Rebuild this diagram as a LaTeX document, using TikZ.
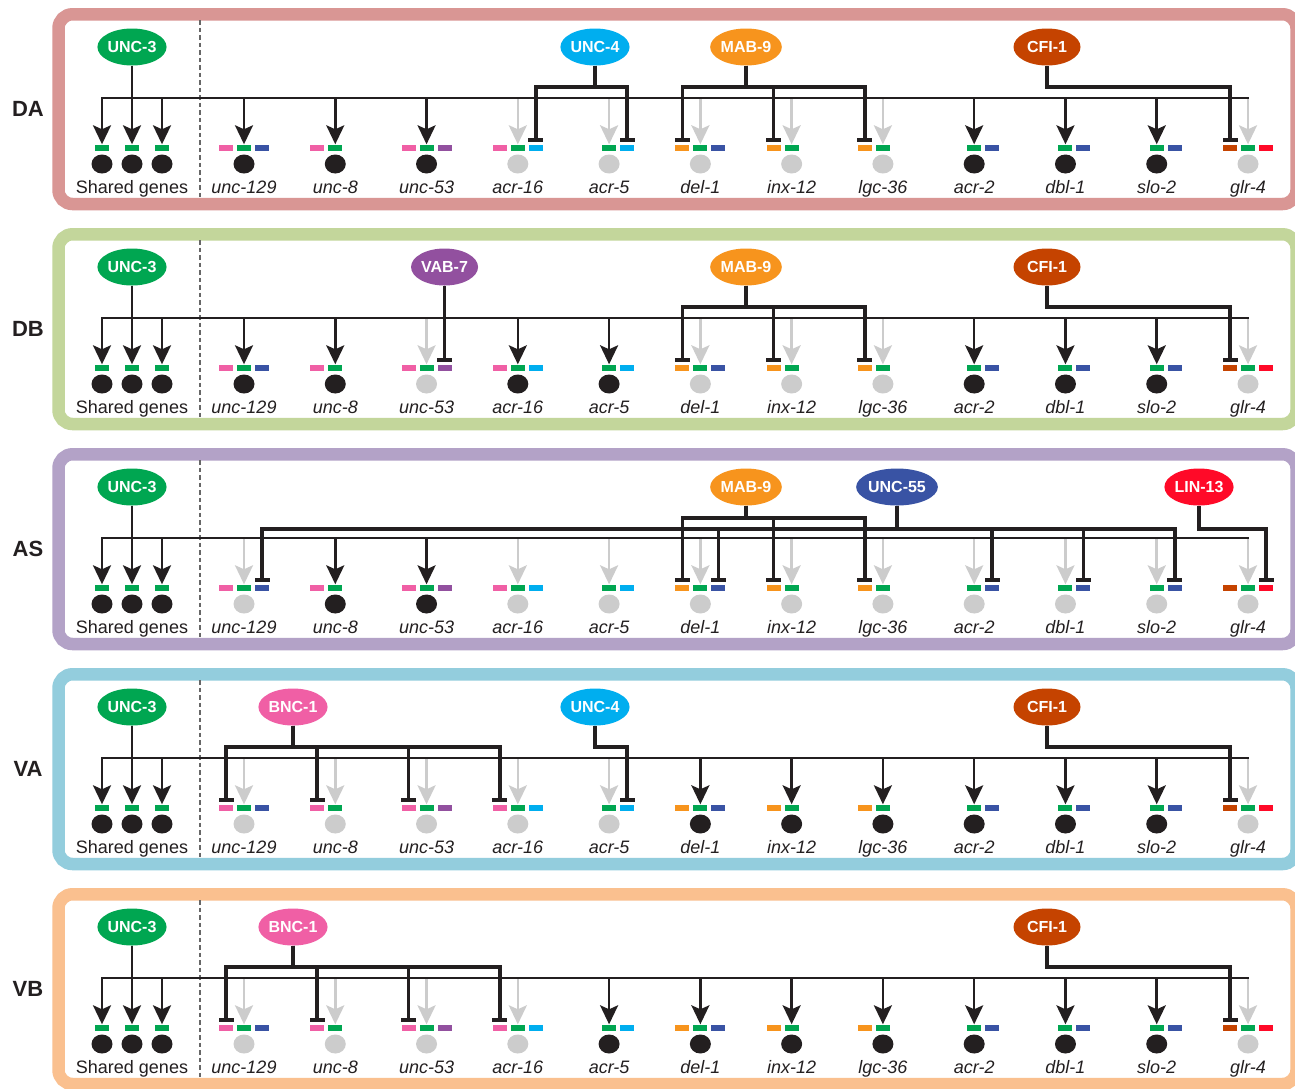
\documentclass[tikz,border=0pt]{standalone}
\usepackage{fontspec}
\setmainfont{Liberation Sans}
\usetikzlibrary{arrows.meta,shapes.geometric,calc}

\definecolor{ink}{HTML}{231F20}
\definecolor{grn}{HTML}{00A651}
\definecolor{cya}{HTML}{00AEEF}
\definecolor{org}{HTML}{F7941D}
\definecolor{rust}{HTML}{C54300}
\definecolor{pur}{HTML}{92509F}
\definecolor{blu}{HTML}{3953A4}
\definecolor{redx}{HTML}{FF0A28}
\definecolor{pnk}{HTML}{F05FA5}
\definecolor{lgray}{HTML}{CCCCCC}
\definecolor{sepgray}{HTML}{666666}
\definecolor{bDA}{HTML}{D99694}
\definecolor{bDB}{HTML}{C3D69B}
\definecolor{bAS}{HTML}{B3A2C7}
\definecolor{bVA}{HTML}{93CDDD}
\definecolor{bVB}{HTML}{FAC08F}

\tikzset{
  tf/.style={ellipse, minimum width=67pt, minimum height=37pt, inner sep=0pt,
    text=white, font=\bfseries\fontsize{16}{17}\selectfont},
  genebar/.style={rectangle, minimum width=14pt, minimum height=6pt, inner sep=0pt, draw=none},
  gdot/.style={ellipse, minimum width=21pt, minimum height=19pt, inner sep=0pt, draw=none},
  glab/.style={anchor=base, inner sep=0pt, text=ink, font=\itshape\fontsize{18}{20}\selectfont},
  slab/.style={anchor=base, inner sep=0pt, text=ink, font=\fontsize{18}{20}\selectfont},
  rowlab/.style={anchor=base, inner sep=0pt, text=ink, font=\bfseries\fontsize{22}{24}\selectfont},
  act/.style={line width=2.6pt, -{Stealth[length=19pt,width=18pt,inset=4pt]}},
  repl/.style={line width=3.6pt, draw=ink, -{Rectangle[length=4pt,width=15pt]}},
  mainl/.style={line width=2.6pt, draw=ink, line cap=rect},
  sepline/.style={draw=sepgray, line width=1.3pt, dash pattern=on 4.5pt off 3pt},
  frame/.style={line width=12.5pt, rounded corners=14pt}
}

\newcommand\defgene[4]{%
  \expandafter\def\csname gname#1\endcsname{#2}%
  \expandafter\def\csname gleft#1\endcsname{#3}%
  \expandafter\def\csname gright#1\endcsname{#4}}
\defgene{1}{unc-129}{pnk}{blu}
\defgene{2}{unc-8}{pnk}{none}
\defgene{3}{unc-53}{pnk}{pur}
\defgene{4}{acr-16}{pnk}{cya}
\defgene{5}{acr-5}{none}{cya}
\defgene{6}{del-1}{org}{blu}
\defgene{7}{inx-12}{org}{none}
\defgene{8}{lgc-36}{org}{none}
\defgene{9}{acr-2}{none}{blu}
\defgene{10}{dbl-1}{none}{blu}
\defgene{11}{slo-2}{none}{blu}
\defgene{12}{glr-4}{rust}{redx}
\def\nonestr{none}

% #1 id, #2 y offset, #3 frame colour, #4 row label, #5 status list
\newcommand\drawpanel[5]{%
\begin{scope}[shift={(0,#2)}]
  \draw[frame, draw=#3] (58.5,14.25) rectangle (1296.5,204);
  \node[rowlab] (#1lab) at (28,116) {#4};
  \draw[sepline] (200,20) -- (200,198);
  \node[tf, fill=grn] (#1unc3) at (132,47) {UNC-3};
  \foreach \sx [count=\j] in {102,132,162} {
    \node[genebar, fill=grn] (#1s\j) at (\sx,147.5) {};
    \node[gdot, fill=ink] (#1sc\j) at (\sx,164) {};
  }
  \node[slab] (#1shared) at (132,193) {Shared genes};
  \coordinate (#1mL) at (102,98);
  \coordinate (#1mR) at (1248,98);
  \draw[act, color=ink] (#1mL) -- (#1s1.north);
  \draw[act, color=ink] (#1unc3.south) -- (#1s2.north);
  \draw[act, color=ink] (#1s3.north |- #1mL) -- (#1s3.north);
  \foreach \st [count=\i] in {#5} {
    \pgfmathsetmacro\gx{244+91.2727*(\i-1)}
    \ifnum\st=1 \def\gc{ink}\else\def\gc{lgray}\fi
    \edef\gl{\csname gleft\i\endcsname}
    \edef\gr{\csname gright\i\endcsname}
    \node[genebar, fill=grn] (#1g\i) at (\gx,147.5) {};
    \ifx\gl\nonestr\else \node[genebar, fill=\gl] (#1g\i l) at (\gx-18,147.5) {};\fi
    \ifx\gr\nonestr\else \node[genebar, fill=\gr] (#1g\i r) at (\gx+18,147.5) {};\fi
    \node[gdot, fill=\gc] (#1c\i) at (\gx,164) {};
    \node[glab] (#1t\i) at (\gx,193) {\csname gname\i\endcsname};
    \draw[act, color=\gc] (#1g\i.north |- #1mL) -- (#1g\i.north);
  }
  \draw[mainl] (#1mL) -- (#1mR);
\end{scope}}

% repression: #1 TF node, #2 target bar node, #3 bracket y (panel relative)
\newcommand\rep[3]{\draw[repl] (#1.south) -- (#1.south |- 0,#3) -| ($(#2.north)+(0,-2.5)$);}

\begin{document}
\begin{tikzpicture}[x=1pt,y=-1pt]
\useasboundingbox (0,0) rectangle (1295,1088);
\fill[white] (0,0) rectangle (1295,1088);

% ---------------- DA ----------------
\drawpanel{DA}{0}{bDA}{DA}{1,1,1,0,0,0,0,0,1,1,1,0}
\begin{scope}[shift={(0,0)}]
  \node[tf, fill=cya] (DAunc4) at (595,47) {UNC-4};
  \node[tf, fill=org] (DAmab9) at (746,47) {MAB-9};
  \node[tf, fill=rust] (DAcfi1) at (1047,47) {CFI-1};
  \rep{DAunc4}{DAg4r}{87}
  \rep{DAunc4}{DAg5r}{87}
  \rep{DAmab9}{DAg6l}{87}
  \rep{DAmab9}{DAg7l}{87}
  \rep{DAmab9}{DAg8l}{87}
  \rep{DAcfi1}{DAg12l}{87}
\end{scope}

% ---------------- DB ----------------
\drawpanel{DB}{220}{bDB}{DB}{1,1,0,1,1,0,0,0,1,1,1,0}
\begin{scope}[shift={(0,220)}]
  \node[tf, fill=pur] (DBvab7) at (444.55,47) {VAB-7};
  \node[tf, fill=org] (DBmab9) at (746,47) {MAB-9};
  \node[tf, fill=rust] (DBcfi1) at (1047,47) {CFI-1};
  \rep{DBvab7}{DBg3r}{87}
  \rep{DBmab9}{DBg6l}{87}
  \rep{DBmab9}{DBg7l}{87}
  \rep{DBmab9}{DBg8l}{87}
  \rep{DBcfi1}{DBg12l}{87}
\end{scope}

% ---------------- AS ----------------
\drawpanel{AS}{440}{bAS}{AS}{0,1,1,0,0,0,0,0,0,0,0,0}
\begin{scope}[shift={(0,440)}]
  \node[tf, fill=org] (ASmab9) at (746,47) {MAB-9};
  \node[tf, fill=blu] (ASunc55) at (897,47) {UNC-55};
  \node[tf, fill=redx] (ASlin13) at (1199,47) {LIN-13};
  \rep{ASunc55}{ASg1r}{89}
  \rep{ASunc55}{ASg6r}{89}
  \rep{ASunc55}{ASg9r}{89}
  \rep{ASunc55}{ASg10r}{89}
  \rep{ASunc55}{ASg11r}{89}
  \rep{ASmab9}{ASg6l}{78}
  \rep{ASmab9}{ASg7l}{78}
  \rep{ASmab9}{ASg8l}{78}
  \rep{ASlin13}{ASg12r}{89}
\end{scope}

% ---------------- VA ----------------
\drawpanel{VA}{660}{bVA}{VA}{0,0,0,0,0,1,1,1,1,1,1,0}
\begin{scope}[shift={(0,660)}]
  \node[tf, fill=pnk] (VAbnc1) at (293,47) {BNC-1};
  \node[tf, fill=cya] (VAunc4) at (595,47) {UNC-4};
  \node[tf, fill=rust] (VAcfi1) at (1047,47) {CFI-1};
  \rep{VAbnc1}{VAg1l}{87}
  \rep{VAbnc1}{VAg2l}{87}
  \rep{VAbnc1}{VAg3l}{87}
  \rep{VAbnc1}{VAg4l}{87}
  \rep{VAunc4}{VAg5r}{87}
  \rep{VAcfi1}{VAg12l}{87}
\end{scope}

% ---------------- VB ----------------
\drawpanel{VB}{880}{bVB}{VB}{0,0,0,0,1,1,1,1,1,1,1,0}
\begin{scope}[shift={(0,880)}]
  \node[tf, fill=pnk] (VBbnc1) at (293,47) {BNC-1};
  \node[tf, fill=rust] (VBcfi1) at (1047,47) {CFI-1};
  \rep{VBbnc1}{VBg1l}{87}
  \rep{VBbnc1}{VBg2l}{87}
  \rep{VBbnc1}{VBg3l}{87}
  \rep{VBbnc1}{VBg4l}{87}
  \rep{VBcfi1}{VBg12l}{87}
\end{scope}
\end{tikzpicture}
\end{document}
